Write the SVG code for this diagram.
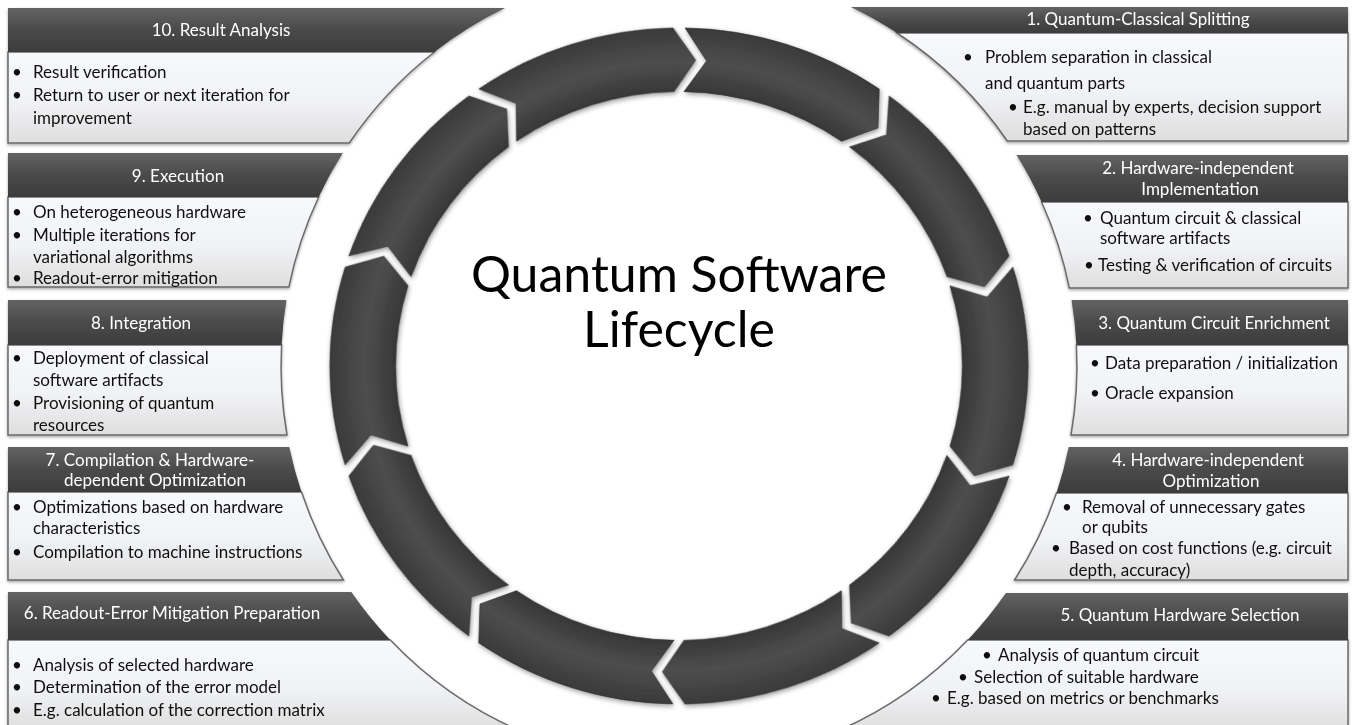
<svg xmlns="http://www.w3.org/2000/svg" xmlns:xlink="http://www.w3.org/1999/xlink" width="1353" height="725" viewBox="0 0 1353 725">
  <defs>
    <linearGradient id="hdr" x1="0" y1="0" x2="0" y2="1">
      <stop offset="0" stop-color="#636363"/>
      <stop offset="0.5" stop-color="#4a4a4a"/>
      <stop offset="1" stop-color="#3c3c3c"/>
    </linearGradient>
    <linearGradient id="body" x1="0" y1="0" x2="0" y2="1">
      <stop offset="0" stop-color="#f8f9fc"/>
      <stop offset="0.55" stop-color="#f1f2f5"/>
      <stop offset="1" stop-color="#dedede"/>
    </linearGradient>
    <radialGradient id="ring" gradientUnits="userSpaceOnUse" cx="679" cy="366" r="345">
      <stop offset="0" stop-color="#444"/>
      <stop offset="0.81" stop-color="#373737"/>
      <stop offset="0.9" stop-color="#4e4e4e"/>
      <stop offset="1" stop-color="#3a3a3a"/>
    </radialGradient>
    <filter id="boxShadow" x="-5%" y="-10%" width="110%" height="125%">
      <feDropShadow dx="0" dy="1.5" stdDeviation="1.5" flood-color="#000" flood-opacity="0.35"/>
    </filter>
    <filter id="segShadow" x="-10%" y="-10%" width="120%" height="120%">
      <feDropShadow dx="1" dy="2" stdDeviation="2.5" flood-color="#000" flood-opacity="0.4"/>
    </filter>
    <!-- one ring segment spanning 0..36 degrees clockwise from the top -->
    <path id="seg" d="M685.02,21.05 A345,345 0 0 1 876.88,83.39 L875.66,123.14 L839.60,136.64 A280,280 0 0 0 683.89,86.04 L706.24,54.69 Z"/>
    <style>
      .hd { fill: url(#hdr); }
      .bd { fill: url(#body); stroke: #6a6a6a; stroke-width: 1.5; }
      .ht { font-family: Lato, "Liberation Sans", sans-serif; font-size: 17px; fill: #ffffff; text-anchor: middle; }
      .bt { font-family: Lato, "Liberation Sans", sans-serif; font-size: 17px; fill: #111111; }
      .title { font-family: Lato, "Liberation Sans", sans-serif; font-size: 50px; fill: #000000; text-anchor: middle; }
      .seg { fill: url(#ring); stroke: #2e2e2e; stroke-width: 0.6; }
    </style>
  </defs>

  <rect width="1353" height="725" fill="#ffffff"/>

  <!-- ring of ten chevron segments, clockwise; slightly flattened vertically -->
  <g id="connectors" filter="url(#segShadow)">
    <g transform="matrix(1.012 0 0 0.98 -8.148 7.32)">
      <use xlink:href="#seg" href="#seg" class="seg"/>
      <use xlink:href="#seg" href="#seg" class="seg" transform="rotate(36 679 366)"/>
      <use xlink:href="#seg" href="#seg" class="seg" transform="rotate(72 679 366)"/>
      <use xlink:href="#seg" href="#seg" class="seg" transform="rotate(108 679 366)"/>
      <use xlink:href="#seg" href="#seg" class="seg" transform="rotate(144 679 366)"/>
      <use xlink:href="#seg" href="#seg" class="seg" transform="rotate(180 679 366)"/>
      <use xlink:href="#seg" href="#seg" class="seg" transform="rotate(216 679 366)"/>
      <use xlink:href="#seg" href="#seg" class="seg" transform="rotate(252 679 366)"/>
      <use xlink:href="#seg" href="#seg" class="seg" transform="rotate(288 679 366)"/>
      <use xlink:href="#seg" href="#seg" class="seg" transform="rotate(324 679 366)"/>
    </g>
  </g>

  <g id="title">
    <text class="title" x="679" y="292"><tspan x="679" y="292">Quantum Software</tspan><tspan x="679" y="347">Lifecycle</tspan></text>
  </g>

  <!-- left column -->
  <g id="node-10" filter="url(#boxShadow)">
    <path class="bd" d="M8,52 L434.4,52 A398,398 0 0 0 349.3,143 L8,143 Z"/>
    <path class="hd" d="M8,8 L505.1,8 A398,398 0 0 0 434.4,52 L8,52 Z"/>
    <text class="ht" x="221" y="36">10. Result Analysis</text>
    <text class="bt" x="12" y="78">•</text><text class="bt" x="33" y="78">Result verification</text>
    <text class="bt" x="12" y="101">•</text><text class="bt" x="33" y="101">Return to user or next iteration for</text>
    <text class="bt" x="33" y="124">improvement</text>
  </g>

  <g id="node-9" filter="url(#boxShadow)">
    <path class="bd" d="M8,197 L318.7,197 A398,398 0 0 0 288.9,287 L8,287 Z"/>
    <path class="hd" d="M8,153 L342.8,153 A398,398 0 0 0 318.7,197 L8,197 Z"/>
    <text class="ht" x="178" y="182">9. Execution</text>
    <text class="bt" x="12" y="218">•</text><text class="bt" x="33" y="218">On heterogeneous hardware</text>
    <text class="bt" x="12" y="241">•</text><text class="bt" x="33" y="241">Multiple iterations for</text>
    <text class="bt" x="33" y="263">variational algorithms</text>
    <text class="bt" x="12" y="284">•</text><text class="bt" x="33" y="284">Readout-error mitigation</text>
  </g>

  <g id="node-8" filter="url(#boxShadow)">
    <path class="bd" d="M8,345 L281.6,345 A398,398 0 0 0 287,435 L8,435 Z"/>
    <path class="hd" d="M8,300 L286.5,300 A398,398 0 0 0 281.6,345 L8,345 Z"/>
    <text class="ht" x="141" y="329">8. Integration</text>
    <text class="bt" x="12" y="364">•</text><text class="bt" x="33" y="364">Deployment of classical</text>
    <text class="bt" x="33" y="386">software artifacts</text>
    <text class="bt" x="12" y="409">•</text><text class="bt" x="33" y="409">Provisioning of quantum</text>
    <text class="bt" x="33" y="431">resources</text>
  </g>

  <g id="node-7" filter="url(#boxShadow)">
    <path class="bd" d="M8,492 L301.5,492 A398,398 0 0 0 343.4,580 L8,580 Z"/>
    <path class="hd" d="M8,447 L289.3,447 A398,398 0 0 0 301.5,492 L8,492 Z"/>
    <text class="ht" x="150" y="466">7. Compilation &amp; Hardware-</text>
    <text class="ht" x="155" y="486">dependent Optimization</text>
    <text class="bt" x="12" y="513">•</text><text class="bt" x="33" y="513">Optimizations based on hardware</text>
    <text class="bt" x="33" y="534">characteristics</text>
    <text class="bt" x="12" y="558">•</text><text class="bt" x="33" y="558">Compilation to machine instructions</text>
  </g>

  <g id="node-6" filter="url(#boxShadow)">
    <path class="bd" d="M8,640 L390.3,640 A398,398 0 0 0 518,730 L8,730 Z"/>
    <path class="hd" d="M8,592 L351.4,592 A398,398 0 0 0 390.3,640 L8,640 Z"/>
    <text class="ht" x="172" y="619">6. Readout-Error Mitigation Preparation</text>
    <text class="bt" x="12" y="671">•</text><text class="bt" x="33" y="671">Analysis of selected hardware</text>
    <text class="bt" x="12" y="693">•</text><text class="bt" x="33" y="693">Determination of the error model</text>
    <text class="bt" x="12" y="716">•</text><text class="bt" x="33" y="716">E.g. calculation of the correction matrix</text>
  </g>

  <!-- right column -->
  <g id="node-1" filter="url(#boxShadow)">
    <path class="bd" d="M897,33 L1348,33 L1348,141 L1007.3,141 A398,398 0 0 0 897,33 Z"/>
    <path class="hd" d="M850.8,7 L1348,7 L1348,33 L897,33 A398,398 0 0 0 850.8,7 Z"/>
    <text class="ht" x="1138" y="25">1. Quantum-Classical Splitting</text>
    <text class="bt" x="963" y="63">•</text><text class="bt" x="985" y="63">Problem separation in classical</text>
    <text class="bt" x="985" y="89">and quantum parts</text>
    <text class="bt" x="1008" y="113">•</text><text class="bt" x="1023" y="113">E.g. manual by experts, decision support</text>
    <text class="bt" x="1023" y="135">based on patterns</text>
  </g>

  <g id="node-2" filter="url(#boxShadow)">
    <path class="bd" d="M1041.6,202 L1348,202 L1348,288 L1069.3,288 A398,398 0 0 0 1041.6,202 Z"/>
    <path class="hd" d="M1016.5,155 L1348,155 L1348,202 L1041.6,202 A398,398 0 0 0 1016.5,155 Z"/>
    <text class="ht" x="1198" y="174">2. Hardware-independent</text>
    <text class="ht" x="1200" y="195">Implementation</text>
    <text class="bt" x="1083" y="224">•</text><text class="bt" x="1100" y="224">Quantum circuit &amp; classical</text>
    <text class="bt" x="1100" y="244">software artifacts</text>
    <text class="bt" x="1084" y="271">•</text><text class="bt" x="1098" y="271">Testing &amp; verification of circuits</text>
  </g>

  <g id="node-3" filter="url(#boxShadow)">
    <path class="bd" d="M1076.4,345 L1348,345 L1348,435 L1071,435 A398,398 0 0 0 1076.4,345 Z"/>
    <path class="hd" d="M1071.5,300 L1348,300 L1348,345 L1076.4,345 A398,398 0 0 0 1071.5,300 Z"/>
    <text class="ht" x="1214" y="329">3. Quantum Circuit Enrichment</text>
    <text class="bt" x="1090" y="369">•</text><text class="bt" x="1105" y="369">Data preparation / initialization</text>
    <text class="bt" x="1090" y="399">•</text><text class="bt" x="1105" y="399">Oracle expansion</text>
  </g>

  <g id="node-4" filter="url(#boxShadow)">
    <path class="bd" d="M1056.5,493 L1348,493 L1348,580 L1014.6,580 A398,398 0 0 0 1056.5,493 Z"/>
    <path class="hd" d="M1068.7,447 L1348,447 L1348,493 L1056.5,493 A398,398 0 0 0 1068.7,447 Z"/>
    <text class="ht" x="1208" y="466">4. Hardware-independent</text>
    <text class="ht" x="1211" y="487">Optimization</text>
    <text class="bt" x="1062" y="513">•</text><text class="bt" x="1082" y="513">Removal of unnecessary gates</text>
    <text class="bt" x="1082" y="533">or qubits</text>
    <text class="bt" x="1051" y="554">•</text><text class="bt" x="1069" y="554">Based on cost functions (e.g. circuit</text>
    <text class="bt" x="1069" y="576">depth, accuracy)</text>
  </g>

  <g id="node-5" filter="url(#boxShadow)">
    <path class="bd" d="M967.7,640 L1348,640 L1348,730 L840,730 A398,398 0 0 0 967.7,640 Z"/>
    <path class="hd" d="M1005.9,593 L1348,593 L1348,640 L967.7,640 A398,398 0 0 0 1005.9,593 Z"/>
    <text class="ht" x="1180" y="621">5. Quantum Hardware Selection</text>
    <text class="bt" x="982" y="661">•</text><text class="bt" x="998" y="661">Analysis of quantum circuit</text>
    <text class="bt" x="958" y="683">•</text><text class="bt" x="974" y="683">Selection of suitable hardware</text>
    <text class="bt" x="931" y="704">•</text><text class="bt" x="947" y="704">E.g. based on metrics or benchmarks</text>
  </g>
</svg>
